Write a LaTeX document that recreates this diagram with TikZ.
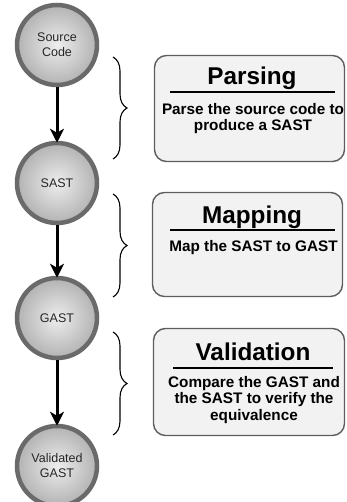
\documentclass[tikz,border=0pt]{standalone}
\usepackage{fontspec}
\setmainfont{Liberation Sans}
\usetikzlibrary{arrows.meta,decorations.pathreplacing}

\definecolor{ringgray}{HTML}{6A6A6A}
\definecolor{panelline}{HTML}{5E5E5E}
\definecolor{panelfill}{HTML}{F2F2F2}

\tikzset{
  stage/.style={circle, draw=ringgray, line width=4.5pt, minimum size=80pt,
    inner sep=0pt, shading=radial, inner color=black!7, outer color=black!30,
    align=center, text=black!85, font=\fontsize{12.5}{15}\selectfont},
  flow/.style={-{Stealth[length=14pt,width=14pt,inset=4pt]}, line width=3pt,
    shorten >=-2pt},
  panel/.style={draw=panelline, fill=panelfill, rounded corners=12pt,
    line width=1.4pt, inner sep=0pt},
  headline/.style={anchor=base, inner sep=0pt,
    font=\bfseries\fontsize{24.3}{28}\selectfont},
  headrule/.style={line width=2pt},
  % anchor=base sits on the baseline of the last line
  blurb/.style={anchor=base, inner sep=0pt, align=center,
    font=\bfseries\fontsize{15.3}{16.4}\selectfont},
  stagebrace/.style={decorate, decoration={brace, amplitude=14pt}, line width=1.1pt}
}

\begin{document}
\begin{tikzpicture}[x=1pt, y=-1pt]
  \useasboundingbox (0,0) rectangle (346,502);

  % pipeline stages
  \node[stage] (src)  at (57,45)  {Source\\Code};
  \node[stage] (sast) at (57,183) {SAST};
  \node[stage] (gast) at (57,318) {GAST};
  \node[stage] (vgast) at (57,466) {Validated\\GAST};

  \draw[flow] (src) -- (sast);
  \draw[flow] (sast) -- (gast);
  \draw[flow] (gast) -- (vgast);

  % braces spanning each transition
  \coordinate (pb1) at (113,57);  \coordinate (pb2) at (113,159);
  \coordinate (mb1) at (113,194); \coordinate (mb2) at (113,297);
  \coordinate (vb1) at (113,332); \coordinate (vb2) at (113,435);
  \draw[stagebrace] (pb1) -- (pb2);
  \draw[stagebrace] (mb1) -- (mb2);
  \draw[stagebrace] (vb1) -- (vb2);

  % Parsing
  \node[panel, minimum width=190pt, minimum height=106pt] (parse) at (249.5,108.5) {};
  \node[headline] (parsehead) at (252,85) {Parsing};
  \draw[headrule] (170,92) -- (335,92);
  \node[blurb] (parsetext) at (253,131) {Parse the source code to\\produce a SAST};

  % Mapping
  \node[panel, minimum width=190pt, minimum height=104pt] (map) at (247.5,244.5) {};
  \node[headline] (maphead) at (252,223) {Mapping};
  \draw[headrule] (170,230) -- (335,230);
  \node[blurb] (maptext) at (253.5,251) {Map the SAST to GAST};

  % Validation
  \node[panel, minimum width=191pt, minimum height=107pt] (valid) at (249,382) {};
  \node[headline] (validhead) at (253,360) {Validation};
  \draw[headrule] (173,368) -- (333,368);
  \node[blurb] (validtext) at (254,420) {Compare the GAST and\\the SAST to verify the\\equivalence};
\end{tikzpicture}
\end{document}
